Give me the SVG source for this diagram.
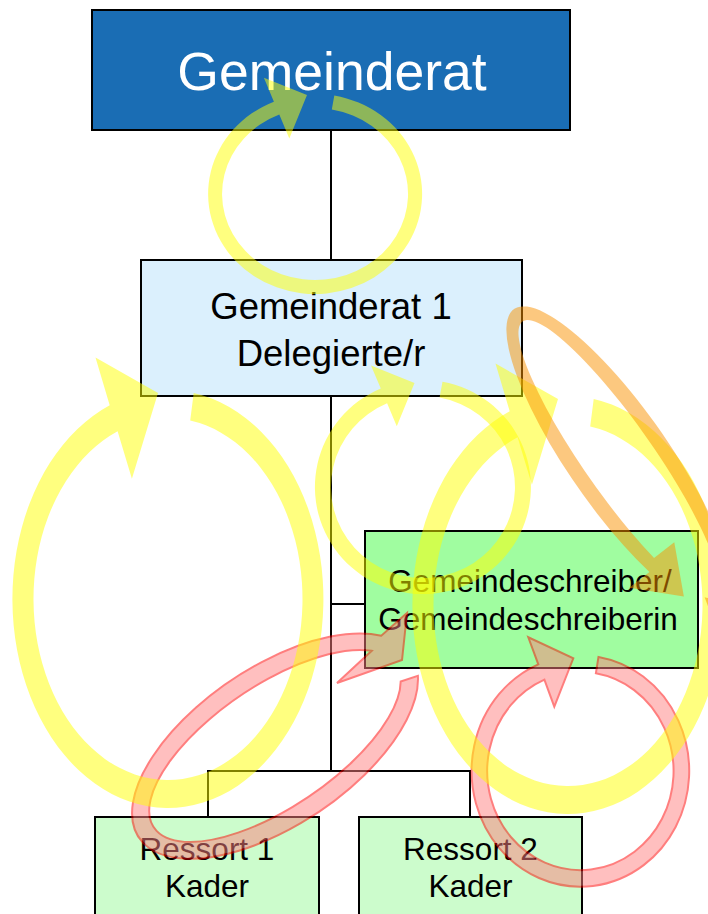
<svg xmlns="http://www.w3.org/2000/svg" width="708" height="914" viewBox="0 0 708 914">
<style>
.box{stroke:#000;stroke-width:2}
.t{font-family:"Liberation Sans",Arial,sans-serif;text-anchor:middle;fill:#000}
.w{fill:#fff}
.conn{stroke:#000;stroke-width:2;fill:none}
.yel{fill:#ffff00;opacity:0.5}
.red{fill:#ff8080;stroke:#ff0000;stroke-width:2;opacity:0.5}
.org{fill:#fa9100;opacity:0.5}
</style>
<rect width="708" height="914" fill="#fff"/>
<g id="connectors">
<path class="conn" d="M331,130V260M331,396V771M331,604H365M208,817V771H470V817"/>
</g>
<g id="gemeinderat">
<rect class="box" x="92" y="10" width="478" height="120" fill="#1a6db4"/>
<text class="t w" x="332" y="90" font-size="53.5">Gemeinderat</text>
</g>
<g id="delegierte">
<rect class="box" x="141" y="260" width="381" height="136" fill="#dbf0fd"/>
<text class="t" x="331" y="319" font-size="36.5">Gemeinderat 1</text>
<text class="t" x="331" y="366" font-size="36.5">Delegierte/r</text>
</g>
<g id="gemeindeschreiber">
<rect class="box" x="365" y="531" width="333" height="137" fill="#a0fda0"/>
<text class="t" x="530" y="592" font-size="31.5">Gemeindeschreiber/</text>
<text class="t" x="528" y="630" font-size="31.5">Gemeindeschreiberin</text>
</g>
<g id="ressort1">
<rect class="box" x="95" y="817" width="224" height="110" fill="#ccfccc"/>
<text class="t" x="207" y="860" font-size="31.5">Ressort 1</text>
<text class="t" x="207" y="897" font-size="31.5">Kader</text>
</g>
<g id="ressort2">
<rect class="box" x="359" y="817" width="223" height="110" fill="#ccfccc"/>
<text class="t" x="470.5" y="860" font-size="31.5">Ressort 2</text>
<text class="t" x="470.5" y="897" font-size="31.5">Kader</text>
</g>
<g id="arrows">
<path class="red" d="M417.9,675.9 A164,79 -34 1 1 381.3,635.7 L407,613 L402,660 L337,683 L371.7,650.8 A146,61 -34 1 0 400.7,681.5 Z"/>
<path class="red" d="M598.5,656.9 A108.8,115.7 0 1 1 538.3,664.3 L528.3,637.3 L573.3,658.3 L554.3,706.7 L544.4,679.6 A93.2,99.1 0 1 0 595.9,673.3 Z"/>
<path class="yel" d="M334.3,95.6 A107,100 0 1 1 273.9,101.7 L263.9,77.7 L307,95 L289.3,138.6 L279.3,114.6 A93,86 0 1 0 331.8,109.4 Z"/>
<path class="yel" d="M193.7,392.9 A155.5,209 0 1 1 109.7,405.2 L95.5,357.6 L158,393 L131.9,478.7 L117.6,431.2 A134.5,181 0 1 0 190.2,420.5 Z"/>
<path class="yel" d="M442.5,381.8 A108,107 0 1 1 380.8,388.5 L371,365.5 L414.5,383 L396.8,426.2 L387.1,403.2 A92,91 0 1 0 439.6,397.5 Z"/>
<path class="yel" d="M593.7,398.9 A155.5,209 0 1 1 509.7,411.2 L495.5,363.6 L558,399 L531.9,484.7 L517.6,437.2 A134.5,181 0 1 0 590.2,426.5 Z"/>
<path class="org" transform="translate(619,459) rotate(55)" d="M176.8,12.9 A183,50 0 1 0 110.1,39.9 L111.4,65.4 L149.9,25.8 L99.8,2.4 L101.1,28 A168,35 0 1 1 162.3,9.1 Z"/>
</g>
</svg>
